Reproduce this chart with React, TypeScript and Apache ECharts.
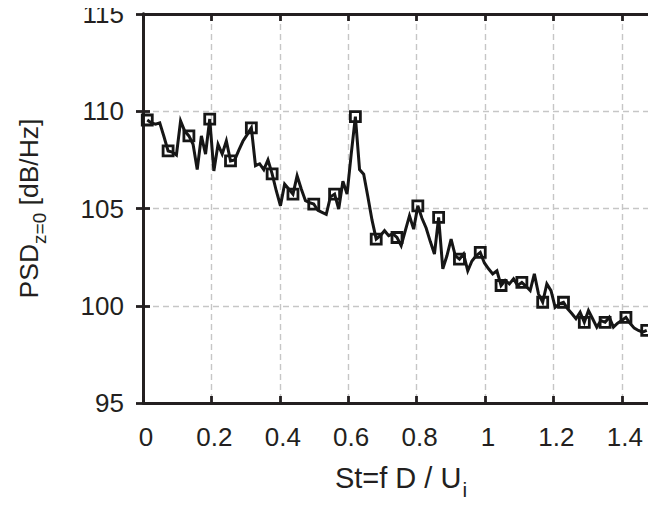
import React, { useEffect, useRef } from "react";
import * as echarts from "echarts";

// Strouhal number St = f D / Uj (frequency bins)
const st = [
  0.0125, 0.0247, 0.0368, 0.049, 0.0612, 0.0734, 0.0855, 0.0977, 0.1099, 0.122,
  0.1342, 0.1464, 0.1585, 0.1707, 0.1829, 0.1951, 0.2072, 0.2194, 0.2316, 0.2437,
  0.2559, 0.2681, 0.2802, 0.2924, 0.3046, 0.3168, 0.3289, 0.3411, 0.3533, 0.3654,
  0.3776, 0.3898, 0.4019, 0.4141, 0.4263, 0.4385, 0.4506, 0.4628, 0.475, 0.4871,
  0.4993, 0.5115, 0.5236, 0.5358, 0.548, 0.5602, 0.5723, 0.5845, 0.5967, 0.6088,
  0.621, 0.6332, 0.6453, 0.6575, 0.6697, 0.6819, 0.694, 0.7062, 0.7184, 0.7305,
  0.7427, 0.7549, 0.767, 0.7792, 0.7914, 0.8036, 0.8157, 0.8279, 0.8401, 0.8522,
  0.8644, 0.8766, 0.8887, 0.9009, 0.9131, 0.9253, 0.9374, 0.9496, 0.9618, 0.9739,
  0.9861, 0.9983, 1.0104, 1.0226, 1.0348, 1.047, 1.0591, 1.0713, 1.0835, 1.0956,
  1.1078, 1.12, 1.1321, 1.1443, 1.1565, 1.1687, 1.1808, 1.193, 1.2052, 1.2173,
  1.2295, 1.2417, 1.2538, 1.266, 1.2782, 1.2904, 1.3025, 1.3147, 1.3269, 1.339,
  1.3512, 1.3634, 1.3755, 1.3877, 1.3999, 1.4121, 1.4242, 1.4364, 1.4486, 1.4607,
  1.4729,
];

// PSD at z=0 [dB/Hz]
const psd = [
  109.55, 109.4, 109.33, 109.4, 108.7, 107.96, 107.9, 107.75, 109.5, 108.98,
  108.73, 108.3, 107.0, 108.73, 107.8, 109.6, 106.93, 108.3, 107.8, 108.47,
  107.45, 107.5, 108.0, 108.47, 108.8, 109.15, 107.2, 107.3, 107.0, 107.5,
  106.78, 105.9, 105.14, 106.25, 106.0, 105.74, 106.68, 106.0, 105.4, 105.3,
  105.23, 104.9, 104.8, 104.7, 105.6, 105.74, 104.97, 106.4, 105.74, 107.8,
  109.72, 107.0, 106.76, 105.6, 104.4, 103.43, 103.6, 103.86, 103.6, 103.7,
  103.51, 103.09, 103.86, 104.63, 103.94, 105.14, 104.5, 104.0, 103.3, 102.66,
  104.54, 101.9, 102.57, 103.43, 102.57, 102.4, 102.66, 101.8, 102.3, 102.57,
  102.74, 102.2, 101.9, 101.64, 101.8, 101.04, 101.3, 101.12, 101.38, 101.04,
  101.2, 101.0, 100.78, 101.64, 100.6, 100.18, 101.12, 100.78, 99.92, 100.1,
  100.18, 99.84, 99.6, 99.33, 99.67, 99.15, 99.75, 99.33, 98.9, 99.24,
  99.15, 99.4, 98.9, 99.1, 99.24, 99.4, 99.1, 98.85, 98.73, 98.64,
  98.73,
];

const markerEvery = 5;

const xMin = 0;
const xMax = 1.5;
const xInterval = 0.2;
const yMin = 95;
const yMax = 115;
const yInterval = 5;

const xTitle = "St=f D / U";
const xTitleSub = "j";
const yTitleMain = "PSD";
const yTitleSub = "z=0";
const yTitleRest = " [dB/Hz]";

const FONT = "'Liberation Sans', Arial, Helvetica, sans-serif";
const INK = "#231f20";

export default function App() {
  const ref = useRef<HTMLDivElement>(null);

  useEffect(() => {
    if (!ref.current) return;
    const chart = echarts.init(ref.current, undefined, { renderer: "svg" });

    const lineData = st.map((x, i) => [x, psd[i]]);
    const markerData = lineData.filter((_, i) => i % markerEvery === 0);

    const axisLine = { show: true, lineStyle: { color: INK, width: 2.8 } };
    const axisTick = { show: true, inside: true, length: 7, lineStyle: { color: INK, width: 2.8 } };
    const splitLine = { show: true, lineStyle: { color: "#c6c6c6", width: 1.4, type: [6, 4] as any } };

    chart.setOption({
      animation: false,
      backgroundColor: "#ffffff",
      grid: { left: 143, right: -4.5, top: 12.7, bottom: 102, containLabel: false },
      xAxis: [
        {
          type: "value",
          position: "bottom",
          min: xMin,
          max: xMax,
          interval: xInterval,
          axisLine,
          axisTick,
          splitLine,
          axisLabel: {
            show: true,
            showMaxLabel: false,
            fontSize: 26,
            fontFamily: FONT,
            color: INK,
            margin: 21,
            padding: [0, 0, 0, 6],
          },
        },
        {
          type: "value",
          position: "top",
          min: xMin,
          max: xMax,
          interval: xInterval,
          axisLine,
          axisTick,
          splitLine: { show: false },
          axisLabel: { show: false },
        },
      ],
      yAxis: [
        {
          type: "value",
          position: "left",
          min: yMin,
          max: yMax,
          interval: yInterval,
          axisLine,
          axisTick,
          splitLine,
          axisLabel: {
            show: true,
            fontSize: 26,
            lineHeight: 22,
            fontFamily: FONT,
            color: INK,
            margin: 19,
            padding: [6, 0, 0, 0],
          },
        },
        {
          type: "value",
          position: "right",
          min: yMin,
          max: yMax,
          interval: yInterval,
          axisLine,
          axisTick,
          splitLine: { show: false },
          axisLabel: { show: false },
        },
      ],
      series: [
        {
          type: "line",
          data: lineData,
          showSymbol: false,
          symbol: "none",
          lineStyle: { color: "#161616", width: 3, join: "miter" },
          z: 3,
        },
        {
          type: "scatter",
          data: markerData,
          symbol: "rect",
          symbolSize: 10,
          itemStyle: { color: "rgba(255,255,255,0)", borderColor: "#161616", borderWidth: 2.8, opacity: 1 },
          z: 4,
        },
      ],
      graphic: [
        {
          type: "text",
          x: 401,
          y: 478,
          style: {
            text: `{m|${xTitle}}{s|${xTitleSub}}`,
            align: "center",
            verticalAlign: "middle",
            fill: INK,
            rich: {
              m: { fontSize: 29, fontFamily: FONT, fill: INK, lineHeight: 34 },
              s: { fontSize: 21, fontFamily: FONT, fill: INK, padding: [22, 0, 0, 1] },
            },
          },
        },
        {
          type: "text",
          x: 29,
          y: 208.5,
          rotation: Math.PI / 2,
          style: {
            text: `{m|${yTitleMain}}{s|${yTitleSub}}{m|${yTitleRest}}`,
            align: "center",
            verticalAlign: "middle",
            fill: INK,
            rich: {
              m: { fontSize: 26.5, fontFamily: FONT, fill: INK, lineHeight: 32 },
              s: { fontSize: 19, fontFamily: FONT, fill: INK, padding: [21, 0, 0, 0] },
            },
          },
        },
      ],
    });

    return () => chart.dispose();
  }, []);

  return <div ref={ref} style={{ width: 656, height: 505, margin: -8 }} />;
}
